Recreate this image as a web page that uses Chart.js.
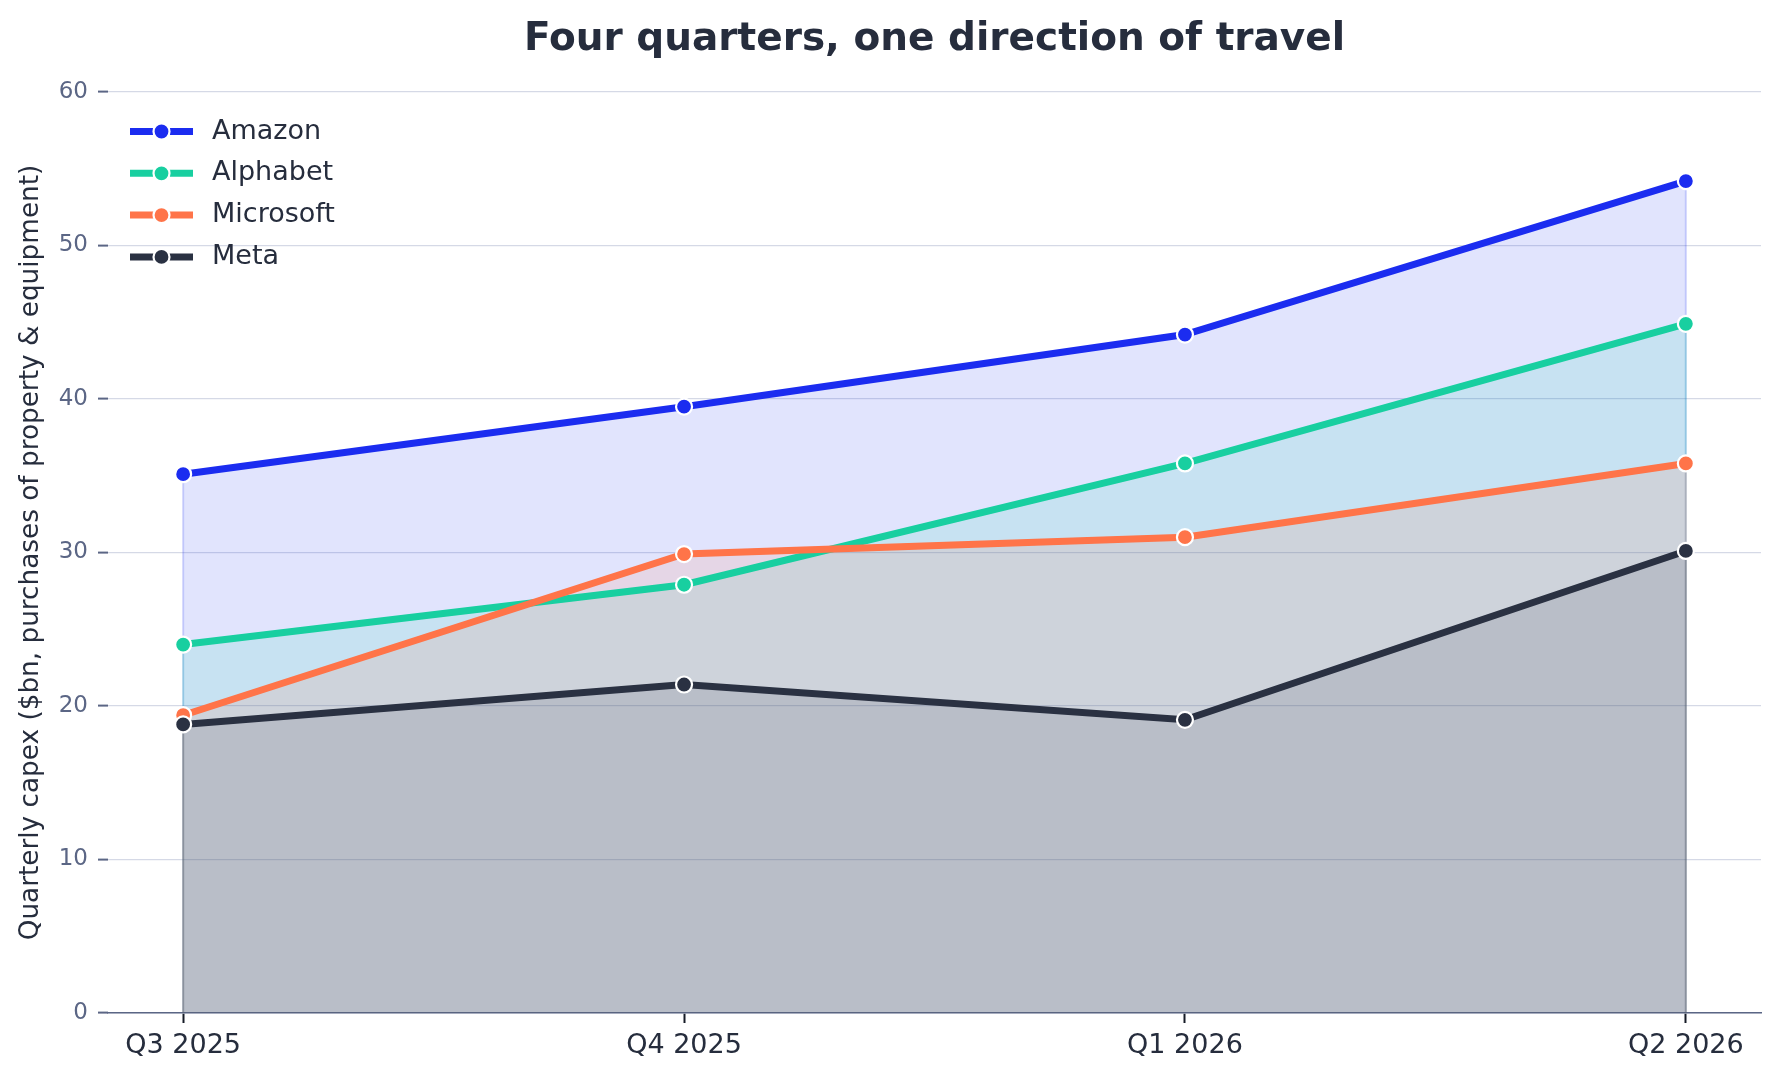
<!DOCTYPE html>
<html>
<head>
<meta charset="utf-8">
<script src="https://cdn.jsdelivr.net/npm/chart.js@4.4.1/dist/chart.umd.min.js"></script>
<style>
  html, body { margin: 0; padding: 0; background: #fff; }
  #wrap { width: 1779px; height: 1080px; position: relative; }
</style>
</head>
<body>
<div id="wrap"><canvas id="chart"></canvas></div>
<script>
const quarters = ['Q3 2025', 'Q4 2025', 'Q1 2026', 'Q2 2026'];
const amazon    = [35.1, 39.5, 44.2, 54.2];
const alphabet  = [24.0, 27.9, 35.8, 44.9];
const microsoft = [19.4, 29.9, 31.0, 35.8];
const meta      = [18.8, 21.4, 19.1, 30.1];
const yTicks    = [0, 10, 20, 30, 40, 50, 60];

const FONT = "'DejaVu Sans', 'Liberation Sans', sans-serif";
const INK = '#262d3d';
const SLATE = '#5b6685';
const FILL_ALPHA = 0.13;

function rgba(hex, a){
  const n = parseInt(hex.slice(1), 16);
  return `rgba(${n>>16},${(n>>8)&255},${n&255},${a})`;
}

function series(label, values, color, order){
  return {
    label,
    data: values.map((v, i) => ({x: i, y: v})),
    borderColor: color,
    backgroundColor: rgba(color, FILL_ALPHA),
    fill: 'origin',
    borderWidth: 7,
    tension: 0,
    pointRadius: 8,
    pointHoverRadius: 8,
    pointBackgroundColor: color,
    pointBorderColor: '#ffffff',
    pointBorderWidth: 2.2,
    order
  };
}

// thin edges on the left/right sides of each filled area (like fill_between)
const edgePlugin = {
  id: 'fillEdges',
  beforeDatasetsDraw(chart){
    const {ctx, scales: {x, y}} = chart;
    ctx.save();
    ctx.lineWidth = 2;
    chart.data.datasets.forEach((ds) => {
      ctx.strokeStyle = rgba(ds.borderColor, FILL_ALPHA * 1.5);
      [ds.data[0], ds.data[ds.data.length - 1]].forEach(p => {
        ctx.beginPath();
        ctx.moveTo(x.getPixelForValue(p.x), y.getPixelForValue(0));
        ctx.lineTo(x.getPixelForValue(p.x), y.getPixelForValue(p.y));
        ctx.stroke();
      });
    });
    ctx.restore();
  }
};

// legend drawn like matplotlib: line handle with a dot, top-left inside the axes
const legendPlugin = {
  id: 'mplLegend',
  afterDraw(chart){
    const {ctx, chartArea} = chart;
    ctx.save();
    chart.data.datasets.forEach((ds, i) => {
      const y = chartArea.top + 39.5 + i * 41.8;
      const x0 = chartArea.left + 22;
      ctx.strokeStyle = ds.borderColor;
      ctx.lineWidth = 7;
      ctx.beginPath();
      ctx.moveTo(x0, y);
      ctx.lineTo(x0 + 63, y);
      ctx.stroke();
      ctx.beginPath();
      ctx.arc(x0 + 31.5, y, 8, 0, Math.PI * 2);
      ctx.fillStyle = ds.borderColor;
      ctx.fill();
      ctx.lineWidth = 2.2;
      ctx.strokeStyle = '#ffffff';
      ctx.stroke();
      ctx.fillStyle = INK;
      ctx.font = `27px ${FONT}`;
      ctx.textBaseline = 'middle';
      ctx.textAlign = 'left';
      ctx.fillText(ds.label, x0 + 82, y);
    });
    ctx.restore();
  }
};

const chart = new Chart(document.getElementById('chart'), {
  type: 'line',
  data: {
    datasets: [
      series('Amazon', amazon, '#1b2cf0', 3),
      series('Alphabet', alphabet, '#18cfa0', 2),
      series('Microsoft', microsoft, '#ff7449', 1),
      series('Meta', meta, '#2a3142', 0)
    ]
  },
  options: {
    responsive: true,
    maintainAspectRatio: false,
    devicePixelRatio: 1,
    animation: false,
    layout: { padding: { left: 0, right: 18, top: 0, bottom: 0 } },
    plugins: {
      legend: { display: false },
      tooltip: { enabled: false },
      filler: { drawTime: 'beforeDatasetsDraw' },
      title: {
        display: true,
        fullSize: false,
        text: 'Four quarters, one direction of travel',
        color: INK,
        font: { family: FONT, size: 39, weight: 'bold' },
        padding: { top: 16, bottom: 29.2 }
      }
    },
    scales: {
      x: {
        type: 'linear',
        min: -0.15,
        max: 3.15,
        afterBuildTicks: (scale) => { scale.ticks = quarters.map((q, i) => ({value: i})); },
        afterFit: (scale) => { scale.height = 67; },
        ticks: {
          callback: (v) => quarters[v],
          color: INK,
          font: { family: FONT, size: 27 },
          padding: 7,
          maxRotation: 0,
          autoSkip: false
        },
        grid: {
          drawOnChartArea: false,
          drawTicks: true,
          tickLength: 10,
          tickWidth: 2,
          tickColor: '#151a26'
        },
        border: { display: true, color: SLATE, width: 1.6 }
      },
      y: {
        min: 0,
        max: 60,
        afterBuildTicks: (scale) => { scale.ticks = yTicks.map(v => ({value: v})); },
        afterFit: (scale) => { scale.width = 108; },
        ticks: {
          color: SLATE,
          font: { family: FONT, size: 23 },
          padding: 10
        },
        grid: {
          color: '#d5d9e6',
          lineWidth: 1.2,
          tickLength: 10,
          tickWidth: 2,
          tickColor: SLATE
        },
        border: { display: false },
        title: {
          display: true,
          text: 'Quarterly capex ($bn, purchases of property & equipment)',
          color: INK,
          font: { family: FONT, size: 26.3 },
          padding: { top: 15, bottom: 0 }
        }
      }
    }
  },
  plugins: [edgePlugin, legendPlugin]
});
</script>
</body>
</html>
